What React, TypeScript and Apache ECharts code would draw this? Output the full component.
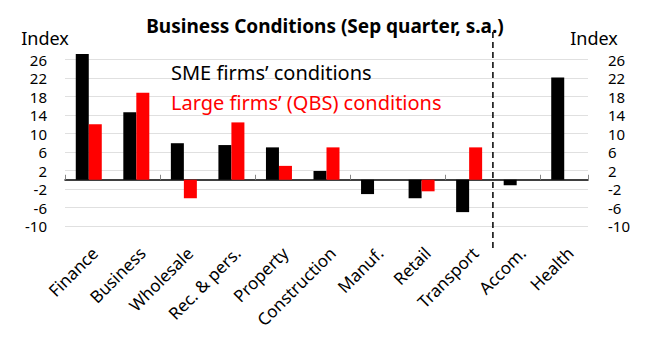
import React, { useEffect, useRef } from "react";
import * as echarts from "echarts";

const categories = [
  "Finance",
  "Business",
  "Wholesale",
  "Rec. & pers.",
  "Property",
  "Construction",
  "Manuf.",
  "Retail",
  "Transport",
  "Accom.",
  "Health",
];
const smeValues = [27.2, 14.6, 7.9, 7.5, 7.0, 1.9, -3.1, -4.0, -7.0, -1.2, 22.1];
const largeValues = [12.0, 18.8, -4.0, 12.4, 3.0, 7.0, null, -2.5, 7.0, null, null];
const seriesNames = ["SME firms’ conditions", "Large firms’ (QBS) conditions"];
const titleText = "Business Conditions (Sep quarter, s.a.)";
const axisName = "Index";
const yMin = -10;
const yMax = 26;
const yInterval = 4;
const dividerAfter = "Transport";

const FONT = "Noto Sans";

export default function App() {
  const ref = useRef<HTMLDivElement>(null);
  useEffect(() => {
    if (!ref.current) return;
    const chart = echarts.init(ref.current, null, { renderer: "svg" });
    const yAxisCommon = {
      type: "value",
      min: yMin,
      max: yMax,
      interval: yInterval,
      axisLine: { show: false },
      axisTick: { show: false },
      axisLabel: { color: "#000", fontSize: 15, lineHeight: 15, fontFamily: FONT },
    };
    chart.setOption({
      animation: false,
      backgroundColor: "#fff",
      title: {
        text: titleText,
        left: "center",
        top: 11,
        textStyle: { fontSize: 19, fontWeight: "bold", color: "#000", fontFamily: FONT },
      },
      legend: {
        orient: "vertical",
        left: 161,
        top: 57,
        icon: "none",
        itemWidth: 0,
        itemHeight: 0,
        itemGap: 9,
        selectedMode: false,
        textStyle: { fontSize: 20, lineHeight: 21, fontFamily: FONT },
        data: [
          { name: seriesNames[0], textStyle: { color: "#000" } },
          { name: seriesNames[1], textStyle: { color: "#ff0000" } },
        ],
      },
      grid: { left: 65, right: 62, top: 59.5, bottom: 112, containLabel: false },
      xAxis: [
        {
          type: "category",
          data: categories,
          position: "bottom",
          axisLine: { onZero: true, lineStyle: { color: "#000", width: 1.5 } },
          axisTick: { show: true, inside: true, length: 5, lineStyle: { color: "#888" } },
          axisLabel: { show: false },
          splitLine: { show: false },
        },
        {
          type: "category",
          data: categories,
          position: "bottom",
          axisLine: { show: false, onZero: false },
          axisTick: { show: false },
          axisLabel: {
            rotate: 45,
            margin: 18,
            verticalAlign: "top",
            color: "#000",
            fontSize: 17,
            fontFamily: FONT,
            interval: 0,
          },
        },
      ],
      yAxis: [
        {
          ...yAxisCommon,
          position: "left",
          axisLabel: { ...yAxisCommon.axisLabel, margin: 18 },
          splitLine: { show: true, lineStyle: { color: "#e0e0e0", width: 1 } },
        },
        {
          ...yAxisCommon,
          position: "right",
          axisLabel: { ...yAxisCommon.axisLabel, margin: 20 },
          splitLine: { show: false },
        },
      ],
      series: [
        {
          name: seriesNames[0],
          type: "bar",
          data: smeValues,
          barWidth: 13,
          barGap: "0%",
          clip: false,
          itemStyle: { color: "#000" },
        },
        {
          name: seriesNames[1],
          type: "bar",
          data: largeValues,
          barWidth: 13,
          barGap: "0%",
          clip: false,
          itemStyle: { color: "#ff0000" },
        },
      ],
    });
    const idx = categories.indexOf(dividerAfter);
    const xa = chart.convertToPixel({ xAxisIndex: 0 }, categories[idx]) as number;
    const xb = chart.convertToPixel({ xAxisIndex: 0 }, categories[idx + 1]) as number;
    const xd = (xa + xb) / 2;
    chart.setOption({
      graphic: [
        {
          type: "line",
          shape: { x1: xd, y1: 32, x2: xd, y2: 251 },
          style: { stroke: "#000", lineWidth: 1.5, lineDash: [6, 4] },
          z: 10,
        },
        {
          type: "text",
          x: 45,
          y: 38,
          style: {
            text: axisName,
            fontSize: 18,
            fontFamily: FONT,
            fill: "#000",
            align: "center",
            verticalAlign: "middle",
          },
        },
        {
          type: "text",
          x: 594,
          y: 38,
          style: {
            text: axisName,
            fontSize: 18,
            fontFamily: FONT,
            fill: "#000",
            align: "center",
            verticalAlign: "middle",
          },
        },
      ],
    });
    return () => chart.dispose();
  }, []);
  return (
    <div
      ref={ref}
      style={{ width: 650, height: 338, position: "absolute", left: 0, top: 0 }}
    />
  );
}
